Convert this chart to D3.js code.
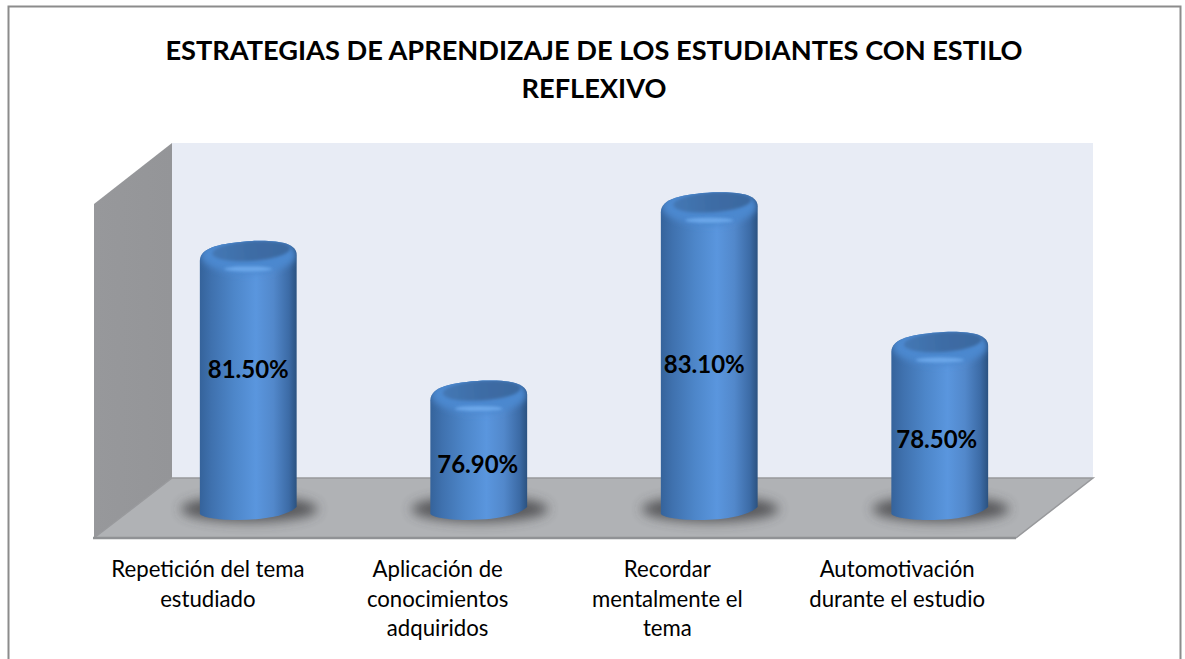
<!DOCTYPE html>
<html><head><meta charset="utf-8">
<script src="https://cdn.jsdelivr.net/npm/d3@7/dist/d3.min.js"></script>
<style>html,body{margin:0;padding:0;background:#fff;overflow:hidden}svg{display:block}text{font-family:Lato,"Open Sans",sans-serif;fill:#000}</style>
</head><body><svg id="c" width="1185" height="659"></svg>
<script>
const titleLines = ["ESTRATEGIAS DE APRENDIZAJE DE LOS ESTUDIANTES CON ESTILO", "REFLEXIVO"];
const categories = ["Repetición del tema estudiado", "Aplicación de conocimientos adquiridos", "Recordar mentalmente el tema", "Automotivación durante el estudio"];
const categoryLines = [["Repetición del tema", "estudiado"], ["Aplicación de", "conocimientos", "adquiridos"], ["Recordar", "mentalmente el", "tema"], ["Automotivación", "durante el estudio"]];
const values = [81.5, 76.9, 83.1, 78.5];
const valueLabels = ["81.50%", "76.90%", "83.10%", "78.50%"];
const labelNudge = [[0, -12], [-1, 13], [-5, 7], [-3, 12]];

const svg = d3.select("#c");
const defs = svg.append("defs");
const W = {left: 94, right: 1016, depthX: 78, depthY: 60, floorFront: 538, wallTop: 204};
const y = d3.scaleLinear().domain([73, 84]).range([510, 176]);
const xBars = d3.scaleBand().domain(categories).range([W.left + 39, W.right + 39]).paddingInner(0.58).paddingOuter(0.29);
const xLabels = d3.scaleBand().domain(categories).range([93, 1012]);

function linear(id, stops, x2 = "100%", y2 = "0%") {
  const g = defs.append("linearGradient").attr("id", id).attr("x1", "0%").attr("y1", "0%").attr("x2", x2).attr("y2", y2);
  stops.forEach(([o, c]) => g.append("stop").attr("offset", o).attr("stop-color", c));
}
linear("body", [[0, "#35639b"], [0.12, "#3f71ae"], [0.35, "#4d86c9"], [0.58, "#5a96de"], [0.76, "#5288cb"], [0.92, "#3c6ba6"], [1, "#2b5280"]]);
linear("face", [[0, "#4478b5"], [0.5, "#3d6ca5"], [1, "#3a689f"]]);
linear("wallL", [[0, "#97989b"], [1, "#949598"]]);
[["b1", 1.8], ["b2", 6], ["b3", 3]].forEach(([id, s]) =>
  defs.append("filter").attr("id", id).attr("x", "-40%").attr("y", "-100%").attr("width", "180%").attr("height", "300%")
    .append("feGaussianBlur").attr("stdDeviation", s));

// frame
svg.append("path").attr("d", "M8.5,659V6.5H1180.5V659").attr("fill", "none").attr("stroke", "#8c8c8c").attr("stroke-width", 2);

// walls and floor
const bx = W.left + W.depthX, by = W.floorFront - W.depthY, bt = W.wallTop - 61;
svg.append("rect").attr("x", bx).attr("y", bt).attr("width", W.right + 77 - bx).attr("height", by - bt).attr("fill", "#e8ecf5");
svg.append("path").attr("d", `M${W.left},${W.wallTop}L${bx},${bt}V${by}L${W.left},${W.floorFront}Z`).attr("fill", "url(#wallL)");
svg.append("path").attr("d", `M${bx},${by}H${W.right + 77}L${W.right},${W.floorFront}H${W.left}Z`).attr("fill", "#b0b2b5");
svg.append("path").attr("d", `M${W.left},${W.floorFront}L${bx},${by}H${W.right + 77}L${W.right},${W.floorFront}`).attr("fill", "none").attr("stroke", "#98999c").attr("stroke-width", 1.5);
svg.append("path").attr("d", `M${W.left - 1},${W.floorFront}H${W.right}`).attr("stroke", "#909295").attr("stroke-width", 2.5);

// bars
const rx = xBars.bandwidth() / 2;
function silhouette(c, i) {
  const x0 = xBars(c), x1 = x0 + 2 * rx, cx = x0 + rx, t = y(values[i]), b = y(73);
  return `M${x0},${t + 9}C${x0},${t - 5} ${x0 + 22},${t - 9} ${cx + 4},${t - 11}C${cx + 30},${t - 12} ${x1},${t - 9} ${x1},${t + 3}L${x1},${b - 3}C${x1 - 8},${b + 5} ${cx + 18},${b + 10} ${cx - 10},${b + 10}C${x0 + 20},${b + 10} ${x0 + 4},${b + 8} ${x0},${b + 4}Z`;
}
categories.forEach((c, i) => defs.append("clipPath").attr("id", "clip" + i).append("path").attr("d", silhouette(c, i)));
const g = svg.selectAll("g.bar").data(categories).join("g").attr("class", "bar");
g.append("ellipse").attr("cx", c => xBars(c) + rx + 1).attr("cy", y(73) - 1).attr("rx", rx + 20).attr("ry", 13).attr("fill", "#3a3b3d").attr("opacity", .75).attr("filter", "url(#b2)");
g.append("path").attr("fill", "url(#body)").attr("d", silhouette);
const cap = g.append("g").attr("clip-path", (c, i) => `url(#clip${i})`);
cap.append("ellipse").attr("cx", c => xBars(c) + rx).attr("cy", (c, i) => y(values[i]) + 3).attr("rx", rx - 1).attr("ry", 19).attr("fill", "#4c88cf").attr("filter", "url(#b3)");
cap.append("ellipse").attr("cx", c => xBars(c) + rx).attr("cy", (c, i) => y(values[i]) + 17).attr("rx", 24).attr("ry", 2.5).attr("fill", "#72adef").attr("opacity", .85).attr("filter", "url(#b1)");
cap.append("ellipse").attr("cx", c => xBars(c) + rx + 3).attr("cy", (c, i) => y(values[i]) - 1).attr("rx", 39).attr("ry", 10)
  .attr("transform", (c, i) => `rotate(-4 ${xBars(c) + rx + 3} ${y(values[i]) - 1})`).attr("fill", "url(#face)").attr("filter", "url(#b1)");

// value labels
svg.selectAll("text.val").data(values).join("text").attr("class", "val")
  .attr("x", (v, i) => xBars(categories[i]) + rx + labelNudge[i][0])
  .attr("y", (v, i) => (y(v) + y(73)) / 2 + labelNudge[i][1] + 9)
  .attr("text-anchor", "middle").attr("font-size", 24).attr("font-weight", 700)
  .text((v, i) => valueLabels[i]);

// axis labels
const axis = svg.append("g").attr("transform", `translate(0,${W.floorFront})`).call(d3.axisBottom(xLabels).tickSize(0).tickFormat(""));
axis.select(".domain").remove();
axis.selectAll(".tick text").remove();
axis.selectAll(".tick").append("text").attr("text-anchor", "middle").attr("font-size", 22.2).attr("style", "fill:#000")
  .each(function (c, i) {
    d3.select(this).selectAll("tspan").data(categoryLines[i]).join("tspan")
      .attr("x", 0).attr("y", (l, k) => 39 + k * 29.5).text(l => l);
  });

// title
svg.selectAll("text.title").data(titleLines).join("text").attr("class", "title")
  .attr("x", 594).attr("y", (l, i) => 60 + i * 38).attr("text-anchor", "middle")
  .attr("font-size", 27.2).attr("font-weight", 700).text(l => l);
</script></body></html>
